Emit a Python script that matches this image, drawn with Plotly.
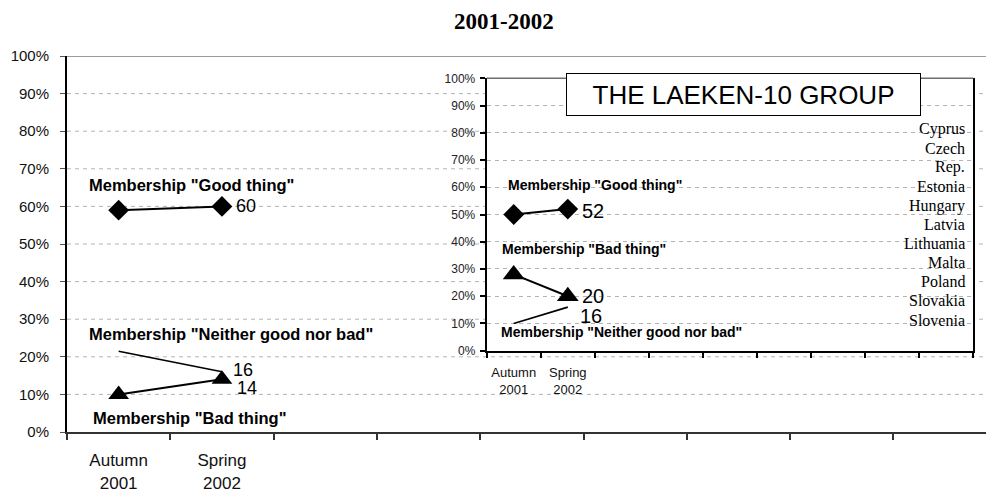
import plotly.graph_objects as go

# ---- data -------------------------------------------------------------
periods = ["Autumn<br>2001", "Spring<br>2002"]

# Candidate countries overall
all_good = [59, 60]
all_neither = [21.5, 16]
all_bad = [10, 14]

# The Laeken-10 group
lk_good = [50, 52]
lk_bad = [28, 20]
lk_neither = [10, 16]

laeken_countries = ["Cyprus", "Czech", "Rep.", "Estonia", "Hungary", "Latvia",
                    "Lithuania", "Malta", "Poland", "Slovakia", "Slovenia"]

y_ticks = list(range(0, 101, 10))
y_ticktext = [f"{v}%" for v in y_ticks]

# ---- layout geometry (pixels) ----------------------------------------
W, H = 986, 492
ML, MT, MB, MR = 67, 56, 60, 0
PW, PH = W - ML - MR, H - MT - MB
CAT_W = 103.3            # width of one category slot on the main axis
N_INSET = 9              # category slots on the inset axis


def fx(px):
    return (px - ML) / PW


def fy(py):
    return (H - MB - py) / PH


SANS = "Liberation Sans, Arial, sans-serif"
SERIF = "Liberation Serif, Times New Roman, serif"
xs = list(range(len(periods)))

fig = go.Figure()

# main chart series
fig.add_trace(go.Scatter(x=xs, y=all_good, mode="lines+markers",
                         line=dict(color="black", width=2),
                         marker=dict(symbol="diamond", size=16, color="black"),
                         xaxis="x", yaxis="y", hoverinfo="skip"))
fig.add_trace(go.Scatter(x=xs, y=all_neither, mode="lines",
                         line=dict(color="black", width=1.6),
                         xaxis="x", yaxis="y", hoverinfo="skip"))
fig.add_trace(go.Scatter(x=xs, y=all_bad, mode="lines+markers",
                         line=dict(color="black", width=2),
                         marker=dict(symbol="triangle-up", size=18, color="black"),
                         xaxis="x", yaxis="y", hoverinfo="skip"))

# inset series
fig.add_trace(go.Scatter(x=xs, y=lk_good, mode="lines+markers",
                         line=dict(color="black", width=2),
                         marker=dict(symbol="diamond", size=16, color="black"),
                         xaxis="x2", yaxis="y2", hoverinfo="skip"))
fig.add_trace(go.Scatter(x=xs, y=lk_bad, mode="lines+markers",
                         line=dict(color="black", width=2),
                         marker=dict(symbol="triangle-up", size=19, color="black"),
                         xaxis="x2", yaxis="y2", hoverinfo="skip"))
fig.add_trace(go.Scatter(x=xs, y=lk_neither, mode="lines",
                         line=dict(color="black", width=1.6),
                         xaxis="x2", yaxis="y2", hoverinfo="skip"))

# inset placement
ix0, ix1 = 486.7, 973.3
iy_top, iy_bot = 78.3, 350.7
inset_dom_x = [fx(ix0), fx(ix1)]
inset_dom_y = [fy(iy_bot), fy(iy_top)]

shapes = []
# main dashed gridlines (drawn under everything)
for v in y_ticks[1:-1]:
    shapes.append(dict(type="line", xref="paper", yref="y", x0=0, x1=1, y0=v, y1=v,
                       line=dict(color="#b4b4b4", width=1, dash="4px,4px"), layer="below"))
shapes.append(dict(type="line", xref="paper", yref="y", x0=0, x1=1, y0=100, y1=100,
                   line=dict(color="#7a7a7a", width=1.5), layer="below"))
# white plot area of the inset, hiding the main grid behind it
shapes.append(dict(type="rect", xref="paper", yref="paper",
                   x0=inset_dom_x[0], x1=inset_dom_x[1], y0=inset_dom_y[0], y1=inset_dom_y[1],
                   fillcolor="white", line=dict(width=0), layer="below"))
# inset top border
shapes.append(dict(type="line", xref="paper", yref="paper",
                   x0=inset_dom_x[0], x1=inset_dom_x[1], y0=inset_dom_y[1], y1=inset_dom_y[1],
                   line=dict(color="#6e6e6e", width=1.5), layer="above"))

annotations = []
# title
annotations.append(dict(text="<b>2001-2002</b>", xref="paper", yref="paper",
                        x=fx(504), y=fy(21.7), xanchor="center", yanchor="middle",
                        showarrow=False, font=dict(family=SERIF, size=23, color="black")))

# main series labels
main_lbl = dict(xref="paper", yref="paper", xanchor="left", yanchor="middle", showarrow=False,
                font=dict(family=SANS, size=16.5, color="black"))
annotations.append(dict(main_lbl, text='<b>Membership "Good thing"</b>', x=fx(87), y=fy(185)))
annotations.append(dict(main_lbl, text='<b>Membership "Neither good nor bad"</b>', x=fx(87), y=fy(334)))
annotations.append(dict(main_lbl, text='<b>Membership "Bad thing"</b>', x=fx(91), y=fy(418)))

# main value labels
val_main = dict(xref="x", yref="y", xanchor="left", yanchor="middle", showarrow=False,
                font=dict(family=SANS, size=18, color="black"))
annotations.append(dict(val_main, text=str(all_good[1]), x=1, y=all_good[1], xshift=12))
annotations.append(dict(val_main, text=str(all_neither[1]), x=1, y=all_neither[1], xshift=9, yshift=2))
annotations.append(dict(val_main, text=str(all_bad[1]), x=1, y=all_bad[1], xshift=13, yshift=-9))

# inset series labels
ins_lbl = dict(xref="paper", yref="paper", xanchor="left", yanchor="middle", showarrow=False,
               font=dict(family=SANS, size=14, color="black"))
annotations.append(dict(ins_lbl, text='<b>Membership "Good thing"</b>', x=fx(506), y=fy(185)))
annotations.append(dict(ins_lbl, text='<b>Membership "Bad thing"</b>', x=fx(500), y=fy(249)))
annotations.append(dict(ins_lbl, text='<b>Membership "Neither good nor bad"</b>', x=fx(499), y=fy(331.7)))

# inset value labels
val_ins = dict(xref="x2", yref="y2", xanchor="left", yanchor="middle", showarrow=False,
               font=dict(family=SANS, size=20, color="black"))
annotations.append(dict(val_ins, text=str(lk_good[1]), x=1, y=lk_good[1], xshift=12, yshift=-2))
annotations.append(dict(val_ins, text=str(lk_bad[1]), x=1, y=lk_bad[1], xshift=12))
annotations.append(dict(val_ins, text=str(lk_neither[1]), x=1, y=lk_neither[1], xshift=10, yshift=-9))

# inset heading box
annotations.append(dict(text="THE LAEKEN-10 GROUP", xref="paper", yref="paper",
                        x=fx(743.5), y=fy(94.5), xanchor="center", yanchor="middle",
                        width=353, height=41, borderpad=0, borderwidth=1,
                        bordercolor="black", bgcolor="white", showarrow=False,
                        font=dict(family=SANS, size=26, color="black")))

# country list inside the inset
first_row, row_step = 129.3, 19.07
for i, name in enumerate(laeken_countries):
    annotations.append(dict(text=name, xref="paper", yref="paper",
                            x=fx(967), y=fy(first_row + i * row_step),
                            xanchor="right", yanchor="middle", showarrow=False,
                            font=dict(family=SERIF, size=16, color="black")))

fig.update_layout(
    width=W, height=H,
    margin=dict(l=ML, r=MR, t=MT, b=MB, autoexpand=False),
    paper_bgcolor="white", plot_bgcolor="white",
    showlegend=False,
    xaxis=dict(domain=[0, 1], range=[-0.5, -0.5 + PW / CAT_W],
               tickmode="array", tickvals=xs, ticktext=periods, ticks="",
               ticklabelstandoff=12,
               tickfont=dict(family=SANS, size=17, color="#111"),
               showgrid=False, zeroline=False,
               showline=True, linecolor="#333", linewidth=2,
               minor=dict(ticks="outside", tick0=-0.5, dtick=1, ticklen=6,
                          tickcolor="#333", tickwidth=1.5, showgrid=False)),
    yaxis=dict(domain=[0, 1], range=[0, 100],
               tickmode="array", tickvals=y_ticks, ticktext=y_ticktext,
               ticks="outside", ticklen=5, tickcolor="#555", tickwidth=1,
               ticklabelstandoff=8,
               tickfont=dict(family=SANS, size=15, color="#111"),
               showgrid=False, zeroline=False,
               showline=True, linecolor="black", linewidth=2),
    xaxis2=dict(domain=inset_dom_x, anchor="y2", range=[-0.5, N_INSET - 0.5],
                tickmode="array", tickvals=xs, ticktext=periods, ticks="",
                ticklabelstandoff=9,
                tickfont=dict(family=SANS, size=13, color="#111"),
                showgrid=False, zeroline=False,
                showline=True, linecolor="black", linewidth=2,
                minor=dict(ticks="outside", tick0=-0.5, dtick=1, ticklen=5,
                           tickcolor="black", tickwidth=1.5, showgrid=False)),
    yaxis2=dict(domain=inset_dom_y, anchor="x2", range=[0, 100],
                tickmode="array", tickvals=y_ticks, ticktext=y_ticktext,
                ticks="outside", ticklen=5, tickcolor="black", tickwidth=1.5,
                ticklabelstandoff=2,
                tickfont=dict(family=SANS, size=12, color="#222"),
                showgrid=True, gridcolor="#b4b4b4", griddash="4px,4px", gridwidth=1,
                zeroline=False, mirror=True,
                showline=True, linecolor="black", linewidth=2),
    shapes=shapes,
    annotations=annotations,
)

fig.write_html("out.html")
